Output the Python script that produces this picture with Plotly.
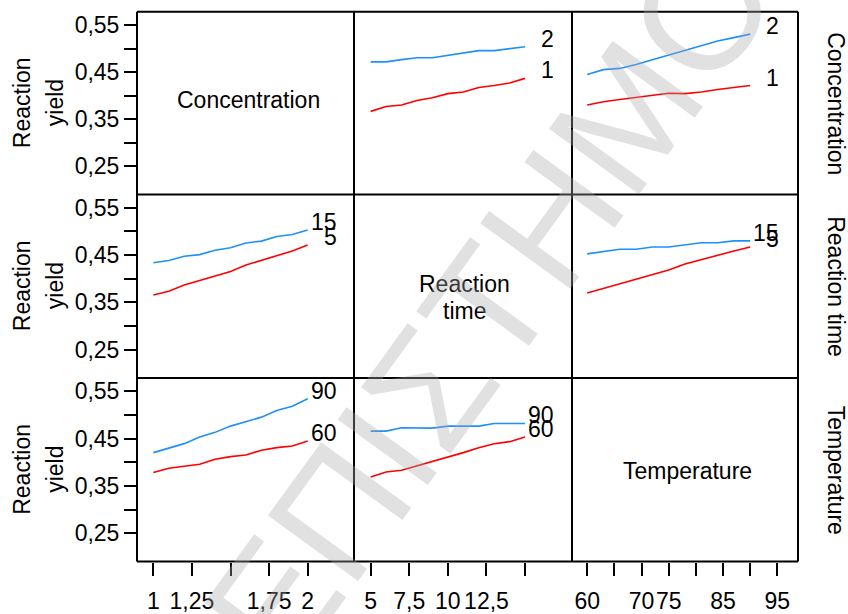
import plotly.graph_objects as go

# ---- data ----
conc_x = [1.0, 1.1, 1.2, 1.3, 1.4, 1.5, 1.6, 1.7, 1.8, 1.9, 2.0]
time_x = [5, 6, 7, 8, 9, 10, 11, 12, 13, 14, 15]
temp_x = [60, 63, 66, 69, 72, 75, 78, 81, 84, 87, 90]

# top row: Concentration levels (1 red, 2 blue)
conc1_vs_time = [0.3665, 0.3768, 0.3801, 0.3898, 0.3954, 0.4042, 0.4077, 0.4172, 0.4214, 0.4269, 0.4366]
conc2_vs_time = [0.4716, 0.4716, 0.4764, 0.4805, 0.4805, 0.4860, 0.4900, 0.4956, 0.4956, 0.4990, 0.5038]
conc1_vs_temp = [0.3801, 0.3871, 0.3919, 0.3966, 0.4007, 0.4049, 0.4042, 0.4077, 0.4131, 0.4172, 0.4214]
conc2_vs_temp = [0.4448, 0.4552, 0.4578, 0.4661, 0.4764, 0.4867, 0.4956, 0.5059, 0.5162, 0.5232, 0.5306]

# middle row: Reaction time levels (5 red, 15 blue)
time5_vs_conc = [0.3656, 0.3733, 0.3864, 0.3962, 0.4059, 0.4149, 0.4288, 0.4392, 0.4496, 0.4585, 0.4710]
time15_vs_conc = [0.4336, 0.4384, 0.4475, 0.4508, 0.4600, 0.4654, 0.4752, 0.4793, 0.4891, 0.4932, 0.5028]
time5_vs_temp = [0.3698, 0.3795, 0.3893, 0.3976, 0.4080, 0.4184, 0.4309, 0.4404, 0.4502, 0.4585, 0.4668]
time15_vs_temp = [0.4523, 0.4579, 0.4621, 0.4621, 0.4668, 0.4668, 0.4716, 0.4758, 0.4758, 0.4799, 0.4799]

# bottom row: Temperature levels (60 red, 90 blue)
temp60_vs_conc = [0.3782, 0.3873, 0.3915, 0.3957, 0.4062, 0.4119, 0.4153, 0.4252, 0.4309, 0.4342, 0.4447]
temp90_vs_conc = [0.4203, 0.4294, 0.4393, 0.4532, 0.4631, 0.4763, 0.4856, 0.4953, 0.5094, 0.5184, 0.5340]
temp60_vs_time = [0.3690, 0.3795, 0.3831, 0.3921, 0.4014, 0.4111, 0.4203, 0.4308, 0.4390, 0.4435, 0.4532]
temp90_vs_time = [0.4658, 0.4658, 0.4729, 0.4729, 0.4721, 0.4763, 0.4763, 0.4763, 0.4820, 0.4820, 0.4820]

factors = ["Concentration", "Reaction time", "Temperature"]
y_tickvals = [0.25, 0.30, 0.35, 0.40, 0.45, 0.50, 0.55]
y_ticktext = ["0,25", "", "0,35", "", "0,45", "", "0,55"]
x_tickvals = [[1, 1.25, 1.5, 1.75, 2], [5, 7.5, 10, 12.5, 15], [60, 65, 70, 75, 80, 85, 90, 95]]
x_ticktext = [["1", "1,25", "", "1,75", "2"], ["5", "7,5", "10", "12,5", ""],
              ["60", "", "70", "75", "", "85", "", "95"]]

# panels: (row, col, x, low series, high series, low label, high label)
panels = [
    (0, 1, time_x, conc1_vs_time, conc2_vs_time, "1", "2"),
    (0, 2, temp_x, conc1_vs_temp, conc2_vs_temp, "1", "2"),
    (1, 0, conc_x, time5_vs_conc, time15_vs_conc, "5", "15"),
    (1, 2, temp_x, time5_vs_temp, time15_vs_temp, "5", "15"),
    (2, 0, conc_x, temp60_vs_conc, temp90_vs_conc, "60", "90"),
    (2, 1, time_x, temp60_vs_time, temp90_vs_time, "60", "90"),
]

W, H = 848, 614
col_px = [(137, 354), (354, 572), (572, 798)]
row_px = [(12, 197), (197, 383), (383, 569)]
x_ranges = [[0.894, 2.30], [3.92, 18.04], [57.2, 98.8]]
y_range = [0.19, 0.578]

RED = "#ff0000"
BLUE = "#1f8fff"
FONT = "Liberation Sans, Arial, sans-serif"

fig = go.Figure()
layout = dict(width=W, height=H, margin=dict(l=0, r=0, t=0, b=0),
              paper_bgcolor="white", plot_bgcolor="white", showlegend=False,
              font=dict(family=FONT, size=23, color="black"))
annotations = []
shapes = []

for r in range(3):
    for c in range(3):
        k = r * 3 + c + 1
        sx = "" if k == 1 else str(k)
        xd = [col_px[c][0] / W, col_px[c][1] / W]
        yd = [1 - row_px[r][1] / H, 1 - row_px[r][0] / H]
        xa = dict(domain=xd, range=x_ranges[c], showgrid=False, zeroline=False,
                  showline=False, anchor="y" + sx, fixedrange=True)
        ya = dict(domain=yd, range=y_range, showgrid=False, zeroline=False,
                  showline=False, anchor="x" + sx, fixedrange=True)
        if r == 2:
            xa.update(tickmode="array", tickvals=x_tickvals[c], ticktext=x_ticktext[c],
                      ticks="outside", ticklen=13, tickwidth=2, tickcolor="black",
                      tickangle=0, ticklabelstandoff=6,
                      showticklabels=True, tickfont=dict(size=23, family=FONT))
        else:
            xa.update(ticks="", showticklabels=False)
        if c == 0:
            ya.update(tickmode="array", tickvals=y_tickvals, ticktext=y_ticktext,
                      ticks="outside", ticklen=12, tickwidth=2, tickcolor="black",
                      showticklabels=True, tickfont=dict(size=23, family=FONT))
        else:
            ya.update(ticks="", showticklabels=False)
        layout["xaxis" + sx] = xa
        layout["yaxis" + sx] = ya
        fig.add_trace(go.Scatter(x=[], y=[], xaxis="x" + sx, yaxis="y" + sx))

# panel borders (grid of lines, 2px)
for xp in [137, 354, 572, 798]:
    shapes.append(dict(type="line", xref="paper", yref="paper",
                       x0=xp / W, x1=xp / W, y0=1 - 569 / H, y1=1 - 12 / H,
                       line=dict(color="black", width=2)))
for yp in [12, 197, 383, 569]:
    shapes.append(dict(type="line", xref="paper", yref="paper",
                       x0=137 / W, x1=798 / W, y0=1 - yp / H, y1=1 - yp / H,
                       line=dict(color="black", width=2)))

for (r, c, xs, lo, hi, lo_lab, hi_lab) in panels:
    k = r * 3 + c + 1
    sx = "" if k == 1 else str(k)
    fig.add_trace(go.Scatter(x=xs, y=hi, mode="lines", line=dict(color=BLUE, width=1.6),
                             xaxis="x" + sx, yaxis="y" + sx, hoverinfo="skip"))
    fig.add_trace(go.Scatter(x=xs, y=lo, mode="lines", line=dict(color=RED, width=1.6),
                             xaxis="x" + sx, yaxis="y" + sx, hoverinfo="skip"))
    for lab, ser in ((hi_lab, hi), (lo_lab, lo)):
        annotations.append(dict(x=xs[-1], y=ser[-1], xref="x" + sx, yref="y" + sx,
                                text=lab, showarrow=False, xanchor="right",
                                yanchor="middle", xshift=31, yshift=8,
                                font=dict(size=23, family=FONT, color="black")))

# diagonal labels
diag = [("Concentration", 248, 101), ("Reaction", 464, 288), ("time", 464, 315),
        ("Temperature", 687, 477)]
for txt, px, py in diag:
    annotations.append(dict(x=px / W, y=1 - py / H, xref="paper", yref="paper",
                            text=txt, showarrow=False,
                            xanchor="center", yanchor="middle",
                            font=dict(size=23, family=FONT, color="black")))

# left axis titles and right row labels
for r in range(3):
    cy = 1 - (row_px[r][0] + row_px[r][1]) / 2 / H
    annotations.append(dict(x=22 / W, y=cy, xref="paper", yref="paper", text="Reaction",
                            textangle=-90, showarrow=False, xanchor="center", yanchor="middle",
                            font=dict(size=23, family=FONT, color="black")))
    annotations.append(dict(x=55 / W, y=cy, xref="paper", yref="paper", text="yield",
                            textangle=-90, showarrow=False, xanchor="center", yanchor="middle",
                            font=dict(size=23, family=FONT, color="black")))
    annotations.append(dict(x=836 / W, y=cy, xref="paper", yref="paper", text=factors[r],
                            textangle=90, showarrow=False, xanchor="center", yanchor="middle",
                            font=dict(size=23, family=FONT, color="black")))

# watermark
annotations.append(dict(x=490 / W, y=1 - 308 / H, xref="paper", yref="paper",
                        text="ΕΠΙΣΤΗΜΟ", textangle=-54, showarrow=False,
                        xanchor="center", yanchor="middle",
                        font=dict(size=162, family=FONT, color="rgba(170,170,170,0.35)")))

layout["annotations"] = annotations
layout["shapes"] = shapes
fig.update_layout(**layout)
fig.write_html("out.html")
